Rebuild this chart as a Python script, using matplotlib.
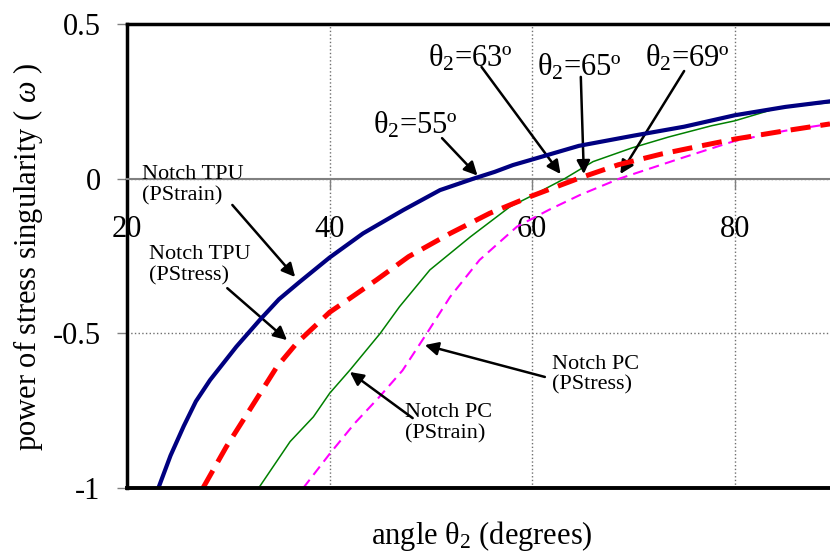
import matplotlib
matplotlib.use("Agg")
import matplotlib.pyplot as plt

plt.rcParams["font.family"] = ["Liberation Serif", "DejaVu Serif"]
plt.rcParams["mathtext.fontset"] = "custom"
plt.rcParams["mathtext.rm"] = "Liberation Serif"
plt.rcParams["mathtext.it"] = "Liberation Serif:italic"
plt.rcParams["mathtext.bf"] = "Liberation Serif:bold"

# power of stress singularity vs. notch angle theta2
tpu_strain_x = [23.1, 24.3, 25.6, 26.8, 28.2, 30.8, 33.1, 35.0, 37.0, 40.0, 43.3,
                47.3, 50.9, 54.2, 56.3, 58.1, 60.0, 64.6, 70.0, 75.0, 80.0, 85.0, 89.4]
tpu_strain_y = [-1.0, -0.895, -0.80, -0.72, -0.651, -0.543, -0.457, -0.39, -0.335,
                -0.255, -0.177, -0.101, -0.037, 0.0, 0.022, 0.044, 0.062, 0.106,
                0.139, 0.168, 0.205, 0.232, 0.25]

tpu_stress_x = [27.5, 29.8, 32.1, 34.8, 36.75, 38.7, 40.0, 42.0, 44.6, 47.8, 51.9,
                55.8, 59.8, 64.5, 68.5, 72.8, 76.5, 80.0, 85.0, 89.4]
tpu_stress_y = [-1.0, -0.867, -0.748, -0.608, -0.532, -0.472, -0.432, -0.387, -0.328,
                -0.252, -0.177, -0.112, -0.058, 0.0, 0.045, 0.08, 0.105, 0.128, 0.155, 0.177]

pc_strain_x = [33.0, 36.1, 38.4, 40.0, 42.0, 45.0, 46.9, 49.9, 53.9, 57.8, 60.1,
               63.2, 66.0, 69.9, 73.5, 77.7, 80.0, 84.3, 89.4]
pc_strain_y = [-1.0, -0.85, -0.77, -0.694, -0.619, -0.5, -0.414, -0.295, -0.188,
               -0.091, -0.053, 0.0, 0.055, 0.10, 0.135, 0.171, 0.187, 0.229, 0.246]

pc_stress_x = [37.4, 40.0, 42.5, 44.9, 47.2, 49.6, 51.9, 54.8, 58.5, 61.7, 64.7,
               68.6, 74.5, 80.0, 85.0, 89.4]
pc_stress_y = [-1.0, -0.89, -0.79, -0.706, -0.62, -0.5, -0.382, -0.263, -0.155,
               -0.10, -0.053, 0.0, 0.064, 0.122, 0.155, 0.177]

x_ticks = [20, 40, 60, 80]
y_ticks = [-1, -0.5, 0, 0.5]
y_tick_labels = ["-1", "-0.5", "0", "0.5"]

fig = plt.figure(figsize=(8.3, 5.55), dpi=100)
ax = fig.add_axes([127 / 830, 1 - 488 / 555, 703 / 830, 464 / 555])

ax.plot(tpu_strain_x, tpu_strain_y, color="#000080", lw=3.0, zorder=4)
ax.plot(tpu_stress_x, tpu_stress_y, color="#ff0000", lw=3.6, dashes=(4, 2), zorder=4)
ax.plot(pc_strain_x, pc_strain_y, color="#008000", lw=1.1, zorder=3)
ax.plot(pc_stress_x, pc_stress_y, color="#ff00ff", lw=1.5, dashes=(5, 3), zorder=3)

ax.set_xlim(20, 89.4)
ax.set_ylim(-1, 0.5)
ax.set_xticks(x_ticks)
ax.set_yticks(y_ticks)
ax.set_yticklabels(y_tick_labels)
ax.tick_params(axis="both", direction="out", length=7, width=1, color="#808080",
               labelsize=22)
ax.tick_params(axis="x", pad=19)
ax.tick_params(axis="y", pad=12)
ax.grid(True, ls=":", color="#707070", lw=1)

# x axis runs along y = 0, frame closed at y = -1
ax.spines["bottom"].set_position(("data", 0))
ax.spines["bottom"].set_color("#808080")
ax.spines["bottom"].set_linewidth(1.5)
ax.spines["right"].set_visible(False)
ax.spines["top"].set_linewidth(2.5)
ax.spines["left"].set_linewidth(2.5)
ax.axhline(-1, color="black", lw=2.8, clip_on=False, zorder=5)

fig.text(482 / 830, 1 - 536 / 555, r"angle $\mathrm{\theta}_{2}$ (degrees)",
         ha="center", va="center", fontsize=22)
fig.text(28 / 830, 0.537, r"power of stress singularity ( $\omega$ )",
         ha="center", va="center", rotation=90, fontsize=22)

arrow = dict(arrowstyle="-|>,head_length=0.4,head_width=0.2", color="black",
             lw=1.8, mutation_scale=20, shrinkA=0, shrinkB=0)

# zero-crossing angles
ax.text(44.3, 0.147, r"$\mathrm{\theta}_{2}$=55º", fontsize=22)
ax.annotate("", xy=(54.6, 0.01), xytext=(51.1, 0.131), arrowprops=arrow)
ax.text(49.7, 0.361, r"$\mathrm{\theta}_{2}$=63º", fontsize=22)
ax.annotate("", xy=(62.8, 0.015), xytext=(55.0, 0.361), arrowprops=arrow)
ax.text(60.5, 0.335, r"$\mathrm{\theta}_{2}$=65º", fontsize=22)
ax.annotate("", xy=(65.1, 0.015), xytext=(64.8, 0.329), arrowprops=arrow)
ax.text(71.1, 0.361, r"$\mathrm{\theta}_{2}$=69º", fontsize=22)
ax.annotate("", xy=(68.7, 0.015), xytext=(75.0, 0.348), arrowprops=arrow)

# curve labels
label_kw = dict(fontsize=16, linespacing=1.1)
ax.text(21.5, -0.069, "Notch TPU\n(PStrain)", **label_kw)
ax.annotate("", xy=(36.6, -0.318), xytext=(30.4, -0.085), arrowprops=arrow)
ax.text(22.2, -0.328, "Notch TPU\n(PStress)", **label_kw)
ax.annotate("", xy=(35.8, -0.522), xytext=(29.9, -0.354), arrowprops=arrow)
ax.text(47.4, -0.8385, "Notch PC\n(PStrain)", **label_kw)
ax.annotate("", xy=(42.0, -0.625), xytext=(48.2, -0.774), arrowprops=arrow)
ax.text(62.0, -0.683, "Notch PC\n(PStress)", **label_kw)
ax.annotate("", xy=(49.4, -0.538), xytext=(61.25, -0.641), arrowprops=arrow)

fig.savefig("out.png", dpi=100)
